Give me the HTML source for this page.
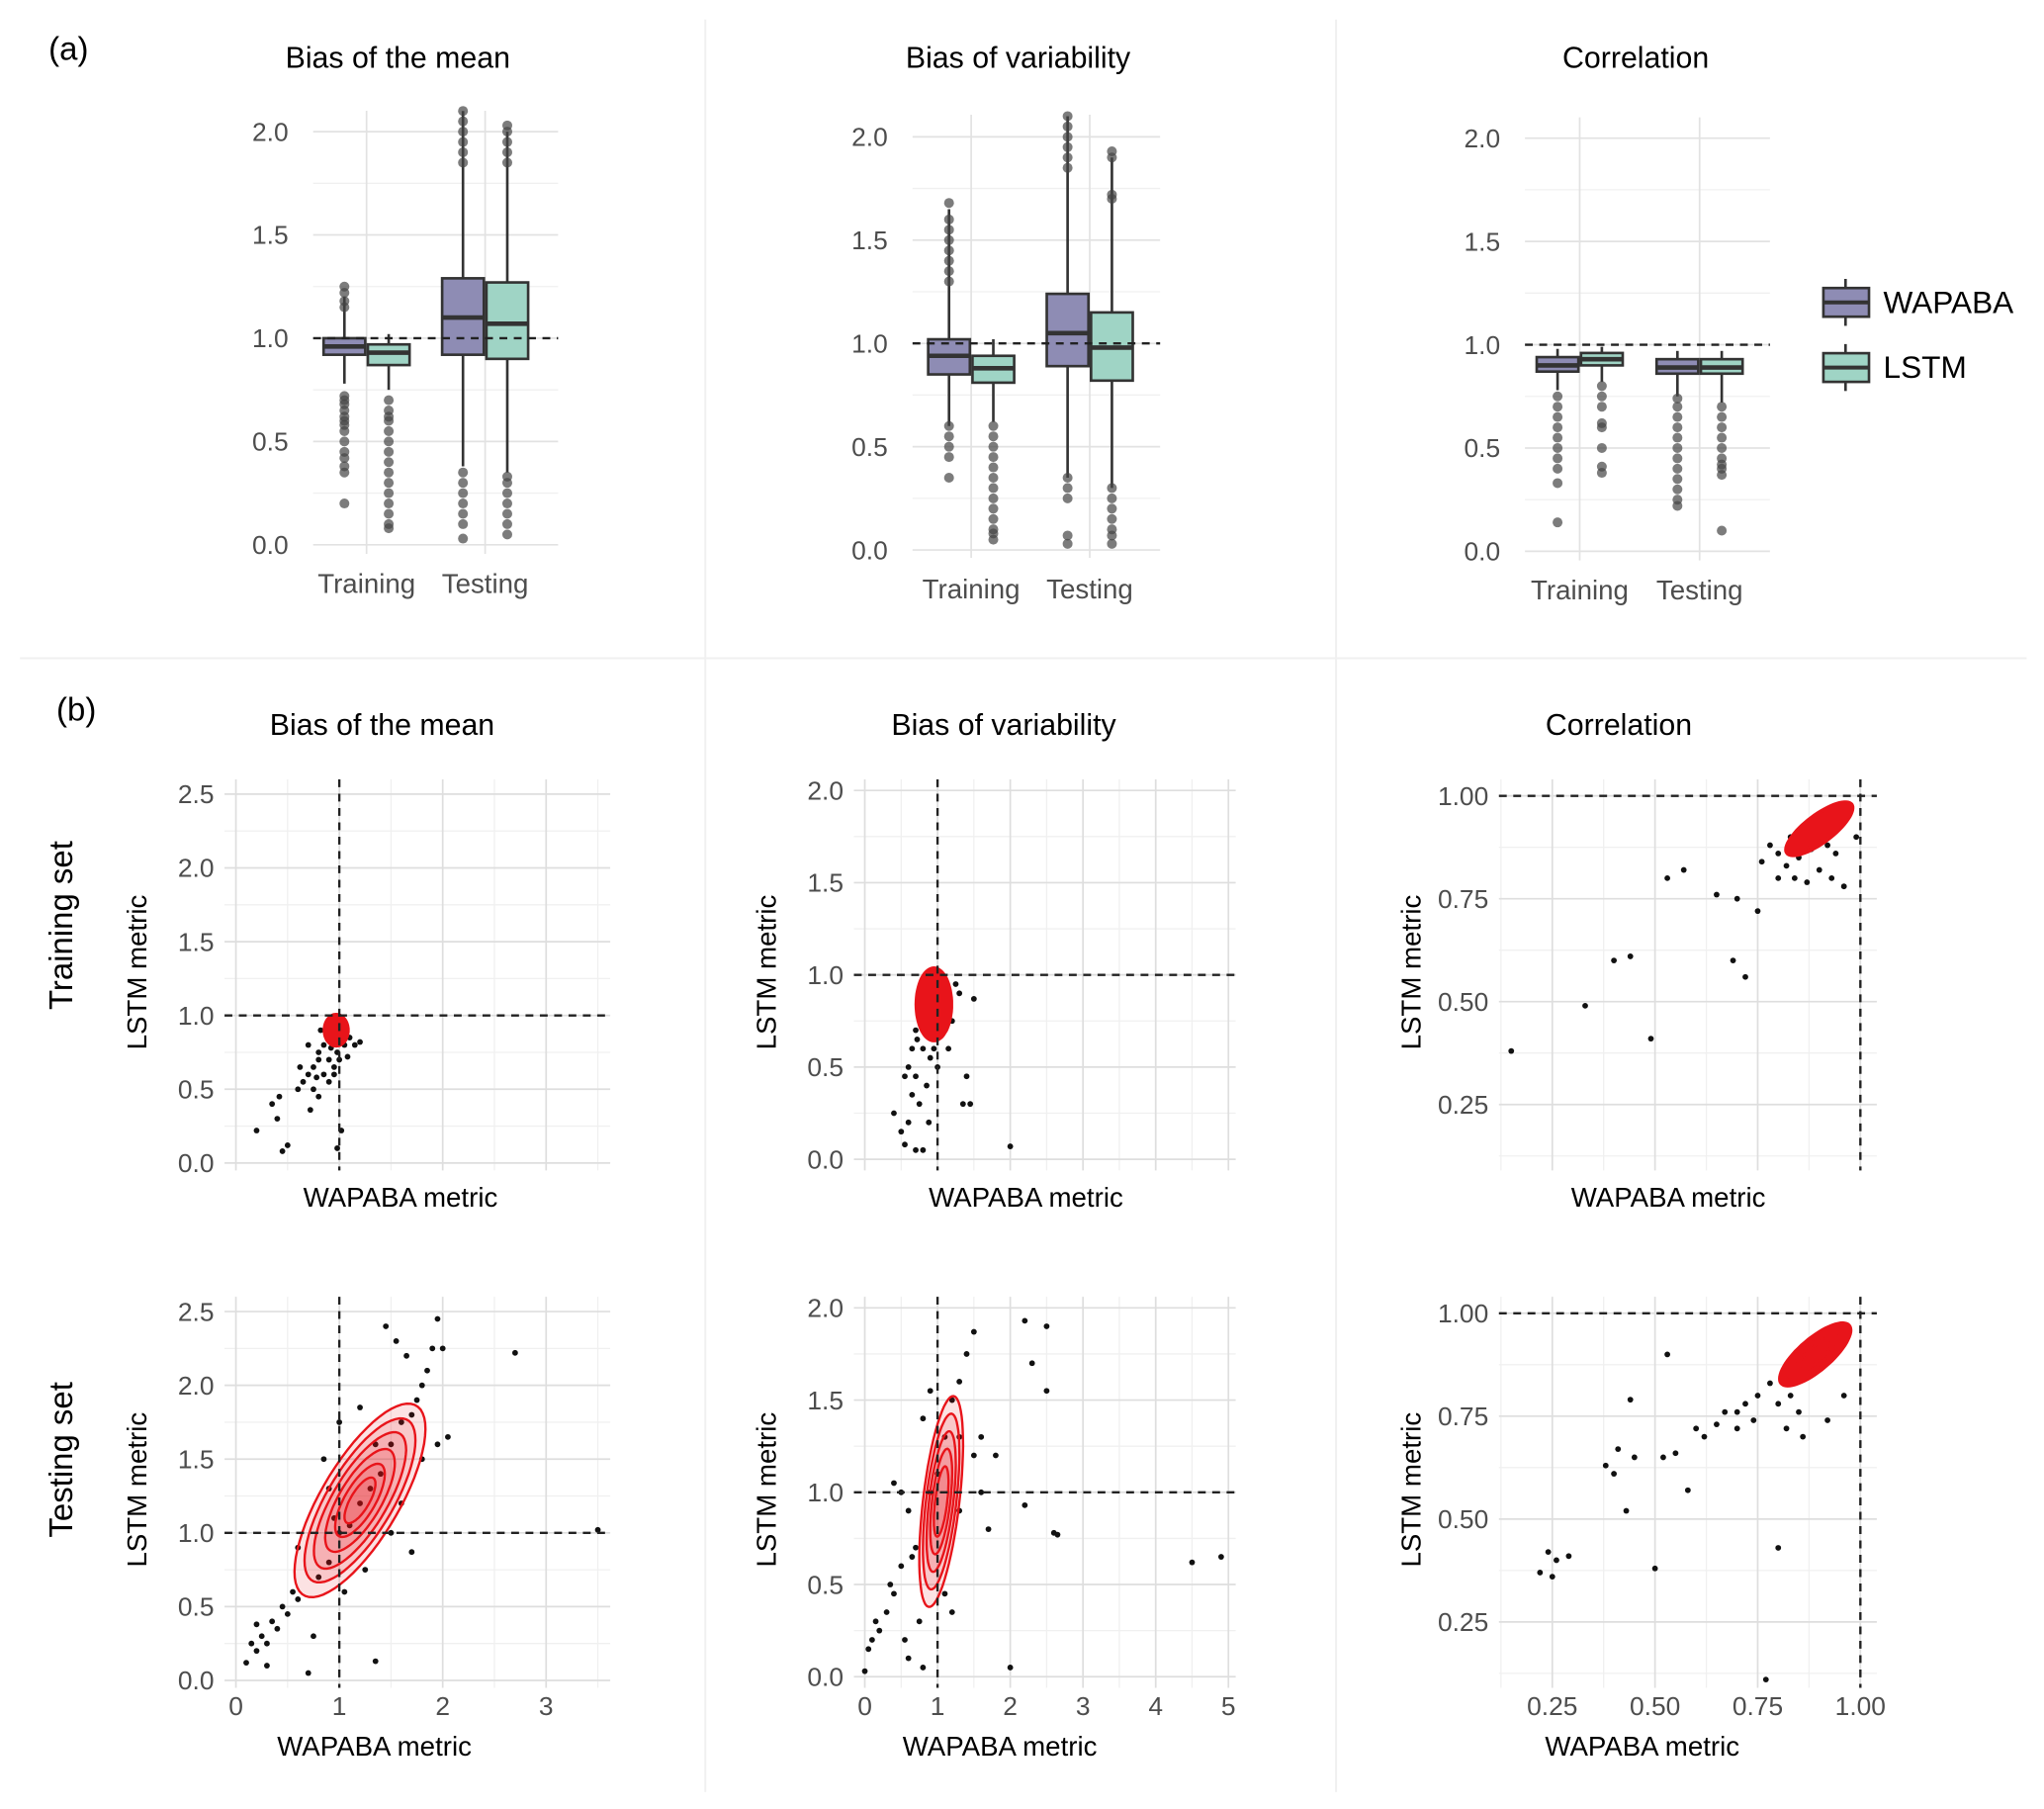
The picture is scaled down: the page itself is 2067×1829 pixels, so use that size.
<!DOCTYPE html>
<html><head><meta charset="utf-8"><style>
html,body{margin:0;padding:0;background:#fff}
svg{display:block;font-family:"Liberation Sans",Arial,sans-serif}
</style></head><body>
<svg id="fig" width="2067" height="1829" viewBox="0 0 1568 1388" xmlns="http://www.w3.org/2000/svg"></svg>
<script>
// ---------- Box plot data ----------
const boxGroups = ["Training","Testing"];
const boxTitles = ["Bias of the mean","Bias of variability","Correlation"];
// [q1, median, q3, whiskerLow, whiskerHigh] per plot: [TrainW, TrainL, TestW, TestL]
const meanStats = [[0.92,0.96,1.0,0.78,1.2],[0.87,0.93,0.97,0.75,1.02],[0.92,1.10,1.29,0.38,2.1],[0.9,1.07,1.27,0.35,2.0]];
const varStats  = [[0.85,0.94,1.02,0.6,1.65],[0.81,0.88,0.94,0.62,1.02],[0.89,1.05,1.24,0.35,2.1],[0.82,0.98,1.15,0.3,1.9]];
const corStats  = [[0.87,0.9,0.94,0.78,0.98],[0.9,0.93,0.96,0.82,0.99],[0.86,0.89,0.93,0.75,0.97],[0.86,0.89,0.93,0.72,0.97]];
const meanOut = [[0.2,0.35,0.38,0.42,0.45,0.5,0.55,0.58,0.6,0.62,0.65,0.68,0.7,0.72,1.15,1.18,1.22,1.25],[0.08,0.1,0.15,0.2,0.25,0.3,0.35,0.4,0.45,0.5,0.55,0.6,0.62,0.65,0.7],[0.03,0.1,0.15,0.2,0.25,0.3,0.35,1.85,1.9,1.95,2.0,2.05,2.1],[0.05,0.1,0.15,0.2,0.25,0.3,0.33,1.85,1.9,1.95,2.0,2.03]];
const varOut = [[0.35,0.45,0.5,0.55,0.6,1.3,1.35,1.4,1.45,1.5,1.55,1.6,1.68],[0.05,0.08,0.1,0.15,0.2,0.25,0.3,0.35,0.4,0.45,0.5,0.55,0.6],[0.03,0.07,0.25,0.3,0.35,1.85,1.9,1.95,2.0,2.05,2.1],[0.03,0.07,0.1,0.15,0.2,0.25,0.3,1.7,1.72,1.9,1.93]];
const corOut = [[0.14,0.33,0.4,0.45,0.5,0.55,0.6,0.65,0.7,0.75],[0.38,0.41,0.5,0.6,0.62,0.7,0.75,0.8],[0.22,0.25,0.3,0.35,0.4,0.45,0.5,0.55,0.6,0.65,0.7,0.74],[0.1,0.37,0.4,0.42,0.45,0.5,0.55,0.6,0.65,0.7]];
const boxTicks = [0,0.5,1.0,1.5,2.0];

// ---------- Scatter data ----------
const trMeanPts = [[0.9,0.95],[0.95,0.9],[1,0.85],[0.85,0.8],[0.8,0.75],[0.9,0.7],[1.05,0.8],[1.1,0.85],[1.15,0.8],[0.75,0.65],[0.8,0.7],[0.7,0.6],[0.85,0.6],[0.95,0.65],[1.0,0.7],[0.9,0.55],[0.75,0.5],[0.8,0.45],[0.65,0.55],[1.05,0.95],[0.92,0.78],[0.88,0.88],[0.98,0.75],[1.08,0.72],[0.82,0.9],[0.7,0.8],[0.95,0.6],[0.6,0.5],[0.72,0.36],[0.5,0.12],[0.45,0.08],[0.35,0.4],[0.4,0.3],[0.2,0.22],[0.42,0.45],[1.02,0.22],[0.98,0.1],[0.62,0.65],[1.2,0.82],[0.78,0.58]];
const trVarPts = [[0.8,0.95],[0.9,0.9],[1,0.85],[0.75,0.8],[0.85,0.75],[0.7,0.7],[0.95,0.7],[1.1,0.8],[1.2,0.75],[0.65,0.6],[0.8,0.6],[0.9,0.55],[0.6,0.5],[0.7,0.45],[0.85,0.4],[0.65,0.35],[0.75,0.3],[1.0,0.5],[0.55,0.45],[1.3,0.9],[1.25,0.95],[1.05,1.0],[0.72,0.65],[0.95,0.6],[1.5,0.87],[2.0,0.07],[0.4,0.25],[0.5,0.15],[0.55,0.08],[0.7,0.05],[0.8,0.05],[1.35,0.3],[1.45,0.3],[1.4,0.45],[0.6,0.2],[1.15,0.6],[0.88,0.2]];
const trCorPts = [[0.85,0.85],[0.88,0.87],[0.9,0.9],[0.92,0.88],[0.95,0.93],[0.97,0.95],[0.82,0.83],[0.8,0.86],[0.84,0.8],[0.87,0.79],[0.9,0.82],[0.93,0.8],[0.96,0.78],[0.78,0.88],[0.8,0.8],[0.86,0.92],[0.9,0.95],[0.83,0.9],[0.76,0.84],[0.99,0.9],[0.94,0.86],[0.15,0.38],[0.33,0.49],[0.4,0.6],[0.44,0.61],[0.49,0.41],[0.53,0.8],[0.57,0.82],[0.65,0.76],[0.69,0.6],[0.72,0.56],[0.7,0.75],[0.75,0.72]];
const teMeanPts = [[0.1,0.12],[0.2,0.2],[0.25,0.3],[0.3,0.25],[0.35,0.4],[0.4,0.35],[0.3,0.1],[0.45,0.5],[0.5,0.45],[0.55,0.6],[0.6,0.55],[0.7,0.05],[0.75,0.3],[0.8,0.7],[0.9,0.8],[1.0,1.0],[1.1,1.05],[1.2,1.2],[1.3,1.3],[1.4,1.4],[1.5,1.6],[1.6,1.75],[1.7,1.8],[1.75,1.9],[1.8,2.0],[1.85,2.1],[1.9,2.25],[2.0,2.25],[1.95,2.45],[1.45,2.4],[1.55,2.3],[1.65,2.2],[2.7,2.22],[3.5,1.02],[2.05,1.65],[1.95,1.6],[1.7,0.87],[1.35,0.13],[0.9,1.3],[0.85,1.5],[1.0,1.75],[1.2,1.85],[1.05,0.6],[1.25,0.75],[1.5,1.0],[1.6,1.2],[1.8,1.5],[0.6,0.9],[0.95,1.1],[1.35,1.6],[0.2,0.38],[0.15,0.25]];
const teVarPts = [[0,0.03],[0.05,0.15],[0.1,0.2],[0.15,0.3],[0.2,0.25],[0.3,0.35],[0.35,0.5],[0.4,0.45],[0.5,0.6],[0.55,0.2],[0.6,0.1],[0.65,0.65],[0.7,0.7],[0.75,0.3],[0.8,0.05],[0.9,1.0],[1.0,1.1],[1.1,1.3],[1.2,1.5],[1.3,1.6],[1.4,1.75],[1.5,1.87],[1.3,1.3],[1.5,1.2],[1.6,1.0],[1.7,0.8],[1.8,1.2],[2.2,1.93],[2.5,1.9],[2.5,1.55],[2.3,1.7],[2.6,0.78],[2.65,0.77],[2.2,0.93],[2.0,0.05],[4.5,0.62],[4.9,0.65],[0.4,1.05],[0.5,1.0],[0.8,1.4],[0.9,1.55],[1.6,1.3],[1.1,0.45],[1.3,0.9],[0.6,0.9],[1.2,0.35]];
const teCorPts = [[0.22,0.37],[0.24,0.42],[0.25,0.36],[0.26,0.4],[0.29,0.41],[0.38,0.63],[0.4,0.61],[0.41,0.67],[0.43,0.52],[0.45,0.65],[0.44,0.79],[0.5,0.38],[0.52,0.65],[0.53,0.9],[0.55,0.66],[0.58,0.57],[0.6,0.72],[0.62,0.7],[0.65,0.73],[0.67,0.76],[0.7,0.72],[0.72,0.78],[0.75,0.8],[0.78,0.83],[0.8,0.43],[0.77,0.11],[0.8,0.78],[0.83,0.8],[0.85,0.76],[0.88,0.85],[0.9,0.88],[0.92,0.9],[0.95,0.93],[0.7,0.76],[0.74,0.74],[0.82,0.72],[0.86,0.7],[0.92,0.74],[0.96,0.8]];
// density contour ellipses: center, direction, semi-axes
const trMeanC = {c:[0.97,0.9],d:[0,1],a:[0.11],b:[0.12],fill:true};
const trVarC = {c:[0.95,0.84],d:[0,1],a:[0.2],b:[0.25],fill:true};
const trCorC = {c:[0.9,0.92],d:[1,0.75],a:[0.1,0.08],b:[0.035,0.025],fill:true};
const teMeanC = {c:[1.2,1.22],d:[1,1.05],a:[0.85,0.72,0.6,0.45,0.32,0.2],b:[0.33,0.28,0.23,0.18,0.13,0.08],fill:false};
const teVarC = {c:[1.05,0.95],d:[0.35,1],a:[0.6,0.5,0.4,0.3,0.2],b:[0.24,0.2,0.16,0.12,0.08],fill:false};
const teCorC = {c:[0.89,0.9],d:[1,0.85],a:[0.11,0.09,0.07,0.05],b:[0.04,0.033,0.025,0.017],fill:true};

const NS="http://www.w3.org/2000/svg";
const svg=document.getElementById('fig');
function el(tag,attrs,parent,text){const e=document.createElementNS(NS,tag);for(const k in attrs)e.setAttribute(k,attrs[k]);if(text!==undefined)e.textContent=text;(parent||svg).appendChild(e);return e;}
function txt(x,y,s,size,anchor,fill,name,rot){const t=el('text',{x:x,y:y,'font-size':size,'text-anchor':anchor||'middle',fill:fill||'#000'},svg,s);


if(rot)t.setAttribute('transform','rotate(-90 '+x+' '+y+')');return t;}

// separators
el('line',{x1:541,y1:15,x2:541,y2:1375,stroke:'#f0f0f0','stroke-width':1.5});
el('line',{x1:1025,y1:15,x2:1025,y2:1375,stroke:'#f0f0f0','stroke-width':1.5});
el('line',{x1:15,y1:505,x2:1555,y2:505,stroke:'#f0f0f0','stroke-width':1.5});
txt(37,46,'(a)',25,'start','#000','panel-a-label');
txt(43,553,'(b)',25,'start','#000','panel-b-label');

// ---------- box plots ----------
const boxPlots=[{x0:240,x1:428,y0:418,y2:101,c:[281,372],title:0,tx:305,stats:meanStats,out:meanOut,top:85,bot:425},
{x0:700,x1:890,y0:422,y2:105,c:[745,836],title:1,tx:781,stats:varStats,out:varOut,top:88,bot:428},
{x0:1170,x1:1358,y0:423,y2:106,c:[1212,1304],title:2,tx:1255,stats:corStats,out:corOut,top:90,bot:430}];
const fills=['#8e8cb4','#9fd4c5'];
boxPlots.forEach((p,pi)=>{
  const y=v=>p.y0+(p.y2-p.y0)*v/2;
  const g=el('g',{});
  
  
  for(let v=0.25;v<2.2;v+=0.5)el('line',{x1:p.x0,x2:p.x1,y1:y(v),y2:y(v),stroke:'#f0f0f0','stroke-width':1},g);
  boxTicks.forEach(v=>{el('line',{x1:p.x0,x2:p.x1,y1:y(v),y2:y(v),stroke:'#e2e2e2','stroke-width':1.3},g);
    txt(p.x0-19,y(v)+7,v.toFixed(1),20,'end','#4d4d4d','y-tick-label');});
  p.c.forEach((cx,gi)=>{el('line',{x1:cx,x2:cx,y1:p.top,y2:p.bot,stroke:'#e2e2e2','stroke-width':1.3},g);
    txt(cx,y(0)+37,boxGroups[gi],21,'middle','#4d4d4d','x-tick-label');});
  txt(p.tx,52,boxTitles[p.title],23,'middle','#000','subplot-title');
  for(let i=0;i<4;i++){
    const s=p.stats[i];const cx=p.c[i>>1]+(i%2?17:-17);const w=32;
    el('line',{x1:cx,x2:cx,y1:y(s[3]),y2:y(s[4]),stroke:'#333','stroke-width':2},g);
    const r=el('rect',{x:cx-w/2,y:y(s[2]),width:w,height:y(s[0])-y(s[2]),fill:fills[i%2],stroke:'#333','stroke-width':2},g);
    
    
    el('line',{x1:cx-w/2,x2:cx+w/2,y1:y(s[1]),y2:y(s[1]),stroke:'#333','stroke-width':3.5},g);
    p.out[i].forEach(v=>el('circle',{cx:cx,cy:y(v),r:3.8,fill:'#444','fill-opacity':0.7},g));
  }
  el('line',{x1:p.x0,x2:p.x1,y1:y(1),y2:y(1),stroke:'#222','stroke-width':1.8,'stroke-dasharray':'6,5'},g);
});
// legend
[['WAPABA',232],['LSTM',282]].forEach((l,i)=>{
  const g=el('g',{});
  
  
  el('line',{x1:1416,x2:1416,y1:l[1]-18,y2:l[1]+18,stroke:'#333','stroke-width':2},g);
  el('rect',{x:1399,y:l[1]-11,width:35,height:22,fill:fills[i],stroke:'#333','stroke-width':2},g);
  el('line',{x1:1399,x2:1434,y1:l[1],y2:l[1],stroke:'#333','stroke-width':3},g);
  txt(1445,l[1]+8,l[0],24,'start','#000','legend-label');
});

// ---------- scatter panels ----------
txt(55,710,'Training set',25,'middle','#000','row-label-training',true);
txt(55,1120,'Testing set',25,'middle','#000','row-label-testing',true);
const cols=[
 {x0:172,x1:468,xd:[-0.11,3.62],xt:[0,1,2,3],xm:[0.5,1.5,2.5,3.5],xf:v=>v.toFixed(0),yd:[-0.05,2.6],yt:[0,0.5,1,1.5,2,2.5],ym:[0.25,0.75,1.25,1.75,2.25],yf:v=>v.toFixed(1),title:'Bias of the mean',tx:293,xtx:307},
 {x0:655,x1:948,xd:[-0.15,5.1],xt:[0,1,2,3,4,5],xm:[0.5,1.5,2.5,3.5,4.5],xf:v=>v.toFixed(0),yd:[-0.06,2.06],yt:[0,0.5,1,1.5,2],ym:[0.25,0.75,1.25,1.75],yf:v=>v.toFixed(1),title:'Bias of variability',tx:770,xtx:787},
 {x0:1150,x1:1440,xd:[0.12,1.04],xt:[0.25,0.5,0.75,1.0],xm:[0.125,0.375,0.625,0.875],xf:v=>v.toFixed(2),yd:[0.09,1.04],yt:[0.25,0.5,0.75,1.0],ym:[0.125,0.375,0.625,0.875],yf:v=>v.toFixed(2),title:'Correlation',tx:1242,xtx:1280}];
const rows=[{y0:898,y1:598,labels:false,xt:926},{y0:1295,y1:995,labels:true,xt:1347}];
const pts=[[trMeanPts,trVarPts,trCorPts],[teMeanPts,teVarPts,teCorPts]];
const cons=[[trMeanC,trVarC,trCorC],[teMeanC,teVarC,teCorC]];
rows.forEach((r,ri)=>cols.forEach((c,ci)=>{
  const X=v=>c.x0+(v-c.xd[0])/(c.xd[1]-c.xd[0])*(c.x1-c.x0);
  const Y=v=>r.y0+(v-c.yd[0])/(c.yd[1]-c.yd[0])*(r.y1-r.y0);
  const g=el('g',{});
  
  
  c.xm.forEach(v=>{if(X(v)<=c.x1)el('line',{x1:X(v),x2:X(v),y1:r.y1,y2:r.y0,stroke:'#f0f0f0'},g);});
  c.ym.forEach(v=>el('line',{x1:c.x0,x2:c.x1,y1:Y(v),y2:Y(v),stroke:'#f0f0f0'},g));
  c.xt.forEach(v=>{el('line',{x1:X(v),x2:X(v),y1:r.y1,y2:r.y0,stroke:'#dedede','stroke-width':1.3},g);
    if(r.labels)txt(X(v),r.y0+21,c.xf(v),20,'middle','#4d4d4d','x-tick-label');});
  c.yt.forEach(v=>{el('line',{x1:c.x0,x2:c.x1,y1:Y(v),y2:Y(v),stroke:'#dedede','stroke-width':1.3},g);
    txt(c.x0-8,Y(v)+7,c.yf(v),20,'end','#4d4d4d','y-tick-label');});
  if(ri===0)txt(c.tx,564,c.title,23,'middle','#000','subplot-title');
  txt(c.xtx+(ri?-20:0),r.xt,'WAPABA metric',21,'middle','#000','x-axis-title');
  txt(c.x0-60,(r.y0+r.y1)/2-2,'LSTM metric',21,'middle','#000','y-axis-title',true);
  pts[ri][ci].forEach(p=>el('circle',{cx:X(p[0]),cy:Y(p[1]),r:2.2,fill:'#111'},g));
  const C=cons[ri][ci];
  const dl=Math.hypot(C.d[0],C.d[1]);const u=[C.d[0]/dl,C.d[1]/dl];const w=[-u[1],u[0]];
  C.a.forEach((a,k)=>{const b=C.b[k];let d='';
    for(let t=0;t<=64;t++){const th=t/64*2*Math.PI;
      const px=C.c[0]+a*Math.cos(th)*u[0]+b*Math.sin(th)*w[0];
      const py=C.c[1]+a*Math.cos(th)*u[1]+b*Math.sin(th)*w[1];
      d+=(t?'L':'M')+X(px).toFixed(1)+','+Y(py).toFixed(1);}
    const e=el('path',{d:d+'Z',fill:C.fill?'#e8141a':'rgba(232,20,26,0.12)',stroke:'#e8141a','stroke-width':1.8},g);
    
    
  });
  el('line',{x1:c.x0,x2:c.x1,y1:Y(1),y2:Y(1),stroke:'#222','stroke-width':1.8,'stroke-dasharray':'6,5'},g);
  el('line',{x1:X(1),x2:X(1),y1:r.y1,y2:r.y0,stroke:'#222','stroke-width':1.8,'stroke-dasharray':'6,5'},g);
}));
</script>
</body></html>
